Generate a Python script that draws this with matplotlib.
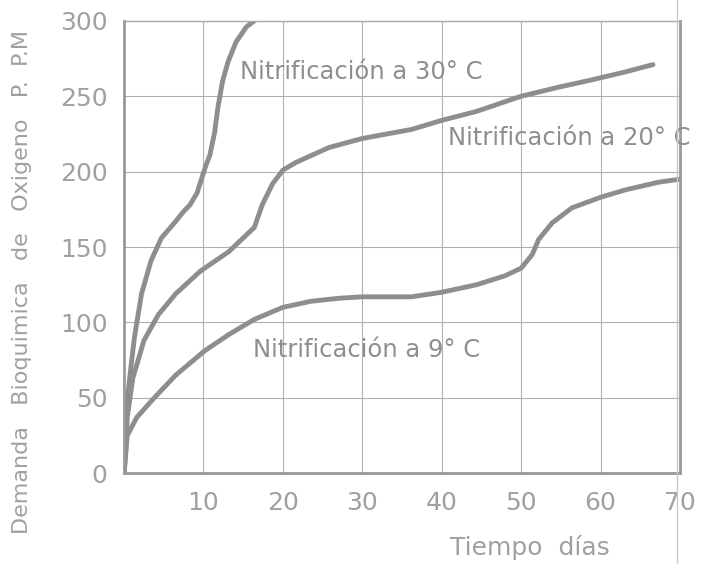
import matplotlib.pyplot as plt

# valores (dias, DBO en p.p.m.)
dias_30 = [0, 0.2, 0.7, 1.3, 2.2, 3.4, 4.7, 6.5, 7.4, 8.3, 9.2, 9.8, 10.3, 10.8, 11.4, 11.8, 12.4, 13.1, 14.1, 15.4, 16.4]
dbo_30 = [0, 37, 63, 90, 119, 141, 156, 167, 173, 178, 186, 196, 204, 211, 226, 242, 260, 273, 286, 296, 300]

dias_20 = [0, 0.2, 0.4, 1.1, 2.5, 4.3, 6.5, 9.6, 13.2, 16.4, 17.4, 18.7, 20.0, 21.6, 25.8, 30.0, 36.2, 40.0, 44.4, 50.0, 54.7, 59.0, 63.0, 66.6]
dbo_20 = [0, 14, 37, 63, 88, 105, 119, 134, 147, 163, 178, 192, 201, 206, 216, 222, 228, 234, 240, 250, 256, 261, 266, 271]

dias_9 = [0, 0.4, 1.6, 3.8, 6.5, 10.1, 13.2, 16.4, 20.0, 23.5, 27.0, 30.0, 36.2, 40.0, 44.4, 48.0, 50.0, 51.4, 52.2, 53.9, 56.4, 60.0, 63.2, 67.3, 70.0]
dbo_9 = [0, 25, 37, 50, 65, 81, 92, 102, 110, 114, 116, 117, 117, 120, 125, 131, 136, 145, 155, 166, 176, 183, 188, 193, 195]

etiquetas = ["Nitrificación a 30° C", "Nitrificación a 20° C", "Nitrificación a 9° C"]
pos_etiquetas = [(14.6, 266), (40.8, 222), (16.2, 82)]

gris = '#8e8e8e'

fig = plt.figure(figsize=(7.01, 5.64), dpi=100)
ax = fig.add_axes([0.177, 0.161, 0.793, 0.802])

for xs, ys in [(dias_30, dbo_30), (dias_20, dbo_20), (dias_9, dbo_9)]:
    ax.plot(xs, ys, color=gris, lw=3.5, solid_capstyle='round', solid_joinstyle='round')

for txt, (x, y) in zip(etiquetas, pos_etiquetas):
    ax.text(x, y, txt, color=gris, fontsize=17.5, va='center', ha='left')

ax.set_xlim(0, 70)
ax.set_ylim(0, 300)
ax.set_xticks(range(10, 71, 10))
ax.set_yticks(range(0, 301, 50))
ax.tick_params(length=0, labelsize=18, labelcolor='#a0a0a0')
ax.tick_params(axis='y', pad=12)
ax.tick_params(axis='x', pad=13)
ax.grid(True, color='#b0b0b0', lw=0.8)

for lado in ['left', 'bottom', 'right']:
    ax.spines[lado].set_color('#999999')
    ax.spines[lado].set_linewidth(2)
ax.spines['top'].set_color('#aaaaaa')
ax.spines['top'].set_linewidth(1)

fig.text(530 / 701, 1 - 548 / 564, 'Tiempo  días', fontsize=18, color='#a0a0a0',
         ha='center', va='center')

fig.text(0.032, 0.5, 'Demanda   Bioquimica   de   Oxigeno   P.  P.M',
         rotation=90, fontsize=16, color='#a0a0a0', va='center', ha='center')

# linea del doblez del papel
fig.add_artist(plt.Line2D([0.966, 0.966], [0, 1], color='#c8c8c8', lw=1))

fig.savefig('out.png')
